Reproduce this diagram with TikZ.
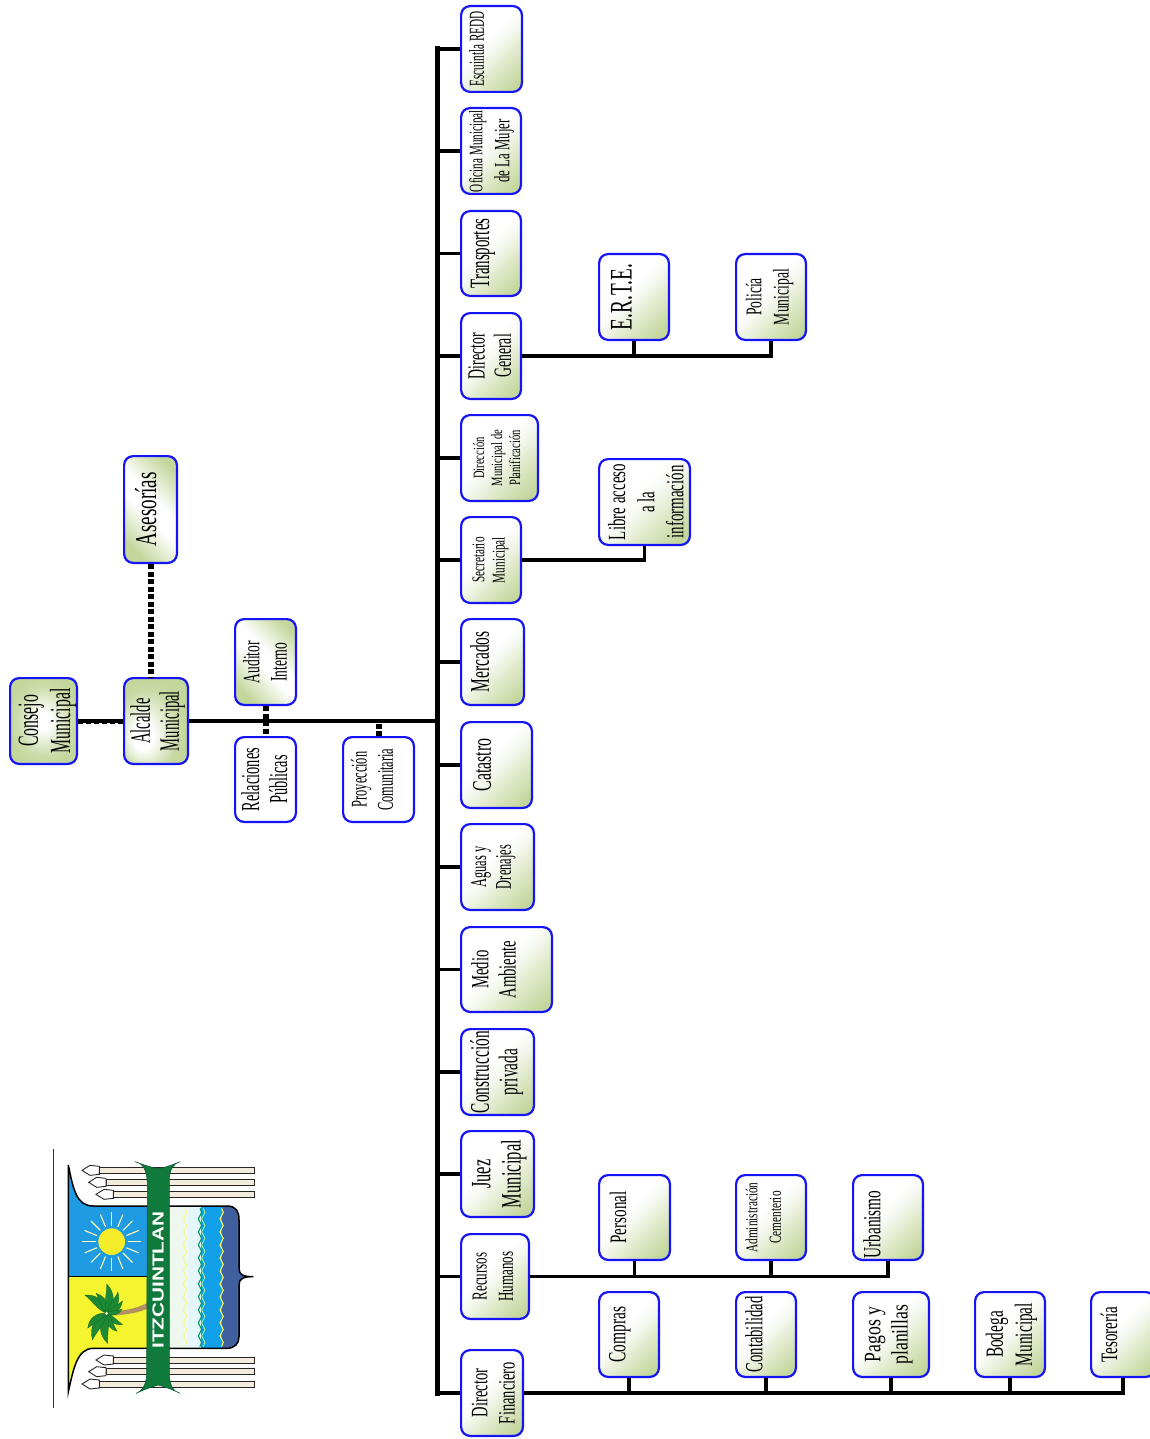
\documentclass[tikz,border=0pt]{standalone}
\usepackage{graphicx}
\usepackage{fontspec}
\setmainfont{Liberation Serif}
\newfontfamily\logofont{Liberation Sans}
\usetikzlibrary{decorations.pathmorphing}
\definecolor{gr}{HTML}{C3D69B}
\definecolor{bord}{HTML}{1414F5}
\definecolor{skyb}{HTML}{1E9BE2}
\definecolor{sea}{HTML}{12A0E8}
\definecolor{deep}{HTML}{3F5F9F}
\definecolor{band}{HTML}{0F7A3C}
\definecolor{palm}{HTML}{1C8A34}
\definecolor{shaft}{HTML}{F3EBDC}
\definecolor{yel}{HTML}{F4F52E}
\definecolor{tan}{HTML}{B09060}
\definecolor{pale}{HTML}{EEF8EE}
\definecolor{paleb}{HTML}{E4F6FA}
\pgfdeclareverticalshading{gbr}{100bp}{color(0bp)=(gr);color(20bp)=(gr);color(38bp)=(gr!50!white);color(50bp)=(gr!12!white);color(58bp)=(white);color(100bp)=(white)}
\pgfdeclareverticalshading{gmid}{100bp}{color(0bp)=(gr);color(24bp)=(gr);color(46bp)=(white);color(56bp)=(white);color(78bp)=(gr);color(100bp)=(gr)}
\pgfdeclareradialshading{gcen}{\pgfpoint{0bp}{0bp}}{color(0bp)=(white);color(5bp)=(white);color(20bp)=(gr!85!white);color(28bp)=(gr);color(50bp)=(gr)}
\pgfdeclareradialshading{goff}{\pgfpoint{-12bp}{-10bp}}{color(0bp)=(white);color(8bp)=(white);color(24bp)=(gr!90!white);color(30bp)=(gr);color(60bp)=(gr)}
\tikzset{
  boxbase/.style={draw=bord,line width=2.2pt,rounded corners=9pt,inner sep=0pt},
  shbr/.style={boxbase,shading=gbr,shading angle=45},
  shmid/.style={boxbase,shading=gmid,shading angle=-45},
  shcen/.style={boxbase,shading=gcen},
  shoff/.style={boxbase,shading=goff},
  shnone/.style={boxbase,fill=white},
  txtn/.style={rotate=90,inner sep=0pt,text=black},
  trunkline/.style={line width=5pt,draw=black},
  branch/.style={line width=3.6pt,draw=black},
  dotlink/.style={line width=6pt,draw=black,dash pattern=on 5pt off 2.5pt},
  outline/.style={draw=black,line width=1.5pt},
  spear/.style={draw=black!85,line width=.9pt,fill=shaft},
  leaf/.style={fill=palm,draw=palm!70!black,line width=.3pt},
}
\makeatletter
\def\nexty{0}
\newcommand\bx[6]{% name x0 y0 x1 y1 style
  \def\cur@n{#1}%
  \pgfmathsetmacro\cur@y{(#3+#5)/2}%
  \node[#6,minimum width={(#4-#2-2.2)*1pt},minimum height={(#5-#3-2.2)*1pt}] (#1) at ({(#2+#4)/2},{(#3+#5)/2}) {};%
  \bx@t}
\newcommand\bx@t[5]{% tx size ls len lines
  \node[txtn] (\cur@n-t) at (#1+1.5,\cur@y+\nexty) {\resizebox{#4pt}{1.12\height}{\fontsize{#2}{#3}\selectfont\begin{tabular}{@{}c@{}}#5\end{tabular}}};\gdef\nexty{0}}
\makeatother
\begin{document}
\begin{tikzpicture}[x=1pt,y=-1pt]
\useasboundingbox (0,0) rectangle (1150,1439);
\fill[white] (0,0) rectangle (1150,1439);
\coordinate (sp) at (437,48);
% boxes
\bx{cons}{9}{677}{78}{765}{shcen}{46}{26}{29}{65}{Consejo\\Municipal}
\bx{alc}{123}{677}{189}{765}{shoff}{157}{25}{26}{60}{Alcalde\\Municipal}
\bx{ases}{123}{455}{178}{564}{shmid}{148}{27}{30}{74}{Asesorías}
\bx{aud}{234}{618}{297}{706}{shmid}{266}{21}{24.5}{42}{Auditor\\Interno}
\bx{rel}{234}{736}{297}{823}{shnone}{266}{23}{25}{63}{Relaciones\\Públicas}
\bx{proy}{342}{736}{415}{823}{shnone}{373}{20}{23.5}{62}{Proyección\\Comunitaria}
\bx{esc}{460}{5}{523}{93}{shbr}{477}{19}{24}{75}{Escuintla REDD}
\bx{ofi}{460}{107}{522}{195}{shbr}{489}{17}{24}{82}{Oficina Municipal\\{\fontsize{19.5}{24}\selectfont de La Mujer}}
\bx{tra}{460}{210}{522}{297}{shbr}{481}{25}{30}{70}{Transportes}
\bx{dg}{460}{312}{522}{400}{shbr}{491}{22}{23.5}{46}{Director\\General}
\bx{dmp}{460}{414}{539}{502}{shbr}{497}{14}{16}{56}{Dirección\\Municipal de\\Planificación}
\bx{sec}{460}{516}{522}{604}{shbr}{489}{16}{18}{46}{Secretario\\Municipal}
\bx{mer}{460}{618}{525}{706}{shbr}{481}{24}{28}{61}{Mercados}
\bx{cat}{460}{721}{533}{809}{shbr}{483}{24}{28}{53}{Catastro}
\bx{agu}{460}{823}{535}{911}{shbr}{492}{20}{22}{44}{Aguas y\\Drenajes}
\bx{med}{460}{926}{553}{1013}{shbr}{495}{22}{24.5}{58}{Medio\\Ambiente}
\bx{con}{460}{1028}{535}{1116}{shbr}{496}{24}{25.5}{82}{Construcción\\privada}
\bx{jue}{460}{1130}{535}{1218}{shbr}{498}{25}{27}{68}{Juez\\Municipal}
\bx{rec}{460}{1233}{530}{1320}{shbr}{493}{19}{23.5}{50}{Recursos\\Humanos}
\bx{fin}{460}{1349}{524}{1437}{shbr}{494}{21}{24.5}{62}{Director\\Financiero}
\bx{erte}{598}{253}{670}{341}{shbr}{623}{28}{32}{66}{E.R.T.E.}
\bx{pol}{735}{253}{807}{341}{shbr}{768}{20}{24.5}{56}{Policía\\Municipal}
\bx{lib}{598}{458}{691}{546}{shbr}{647}{22}{26}{76}{Libre acceso\\a la\\información}
\bx{per}{598}{1174}{671}{1261}{shbr}{619}{21}{25}{52}{Personal}
\bx{adm}{735}{1174}{807}{1261}{shbr}{763}{15}{21}{70}{Administración\\Cementerio}
\gdef\nexty{7}
\bx{urb}{852}{1174}{924}{1261}{shbr}{873}{22}{26}{68}{Urbanismo}
\bx{com}{598}{1291}{660}{1378}{shbr}{618}{22}{26}{56}{Compras}
\bx{cnt}{735}{1291}{797}{1378}{shbr}{755}{22}{26}{76}{Contabilidad}
\bx{pag}{852}{1291}{930}{1378}{shbr}{887}{21}{24.5}{60}{Pagos y\\planillas}
\bx{bod}{974}{1291}{1046}{1378}{shbr}{1010}{22}{26}{63}{Bodega\\Municipal}
\bx{tes}{1090}{1291}{1156}{1378}{shbr}{1110}{21}{25}{56}{Tesorería}
% connectors
\draw[trunkline,line cap=rect] (esc.west -| sp) -- (fin.west -| sp);
\draw[branch] (cons.east) -- (alc.west);
\draw[draw=black,line width=.9pt,dash pattern=on 5pt off 3pt] ([yshift=-2.6pt]cons.east) -- ([yshift=-2.6pt]alc.west);
\draw[branch] (alc.east) -- (alc.east -| sp);
\foreach \n in {esc,ofi,tra,dg,dmp,sec,mer,cat,agu,med,con,jue,rec,fin} \draw[branch] (\n.west) -- (\n.west -| sp);
\draw[dotlink] (ases.south) -- (ases.south |- alc.north);
\draw[dotlink] (aud.south) -- (rel.north);
\draw[dotlink] (proy.north) -- (proy.north |- alc.east);
\draw[branch] (dg.east) -| (erte.south);
\draw[branch] (dg.east) -| (pol.south);
\draw[branch] (sec.east) -| (lib.south);
\draw[branch] (rec.east) -| (per.south);
\draw[branch] (rec.east) -| (adm.south);
\draw[branch] (rec.east) -| (urb.south);
\draw[branch] (fin.east) -| (com.south);
\draw[branch] (fin.east) -| (cnt.south);
\draw[branch] (fin.east) -| (pag.south);
\draw[branch] (fin.east) -| (bod.south);
\draw[branch] (fin.east) -| (tes.south);
\draw[line width=.9pt,black!80] (53,1149) -- (53,1408);
% logo
\begin{scope}[shift={(40,1140)},x=.33333pt,y=-.33333pt]
  \foreach \s/\yy in {178/91,198/127,220/163,220/660,198/695,178/732}{
    \draw[spear] (\s,\yy-9) rectangle (642,\yy+9);
    \draw[spear,fill=white] (\s-52,\yy) -- (\s-28,\yy-15) -- (\s,\yy-12) -- (\s,\yy+12) -- (\s-28,\yy+15) -- cycle;
  }
  \fill[skyb] (85,75) .. controls (100,150) and (110,198) .. (160,198) -- (330,198) -- (330,410) -- (85,410) -- cycle;
  \fill[yel] (85,410) -- (330,410) -- (330,625) -- (160,625) .. controls (110,625) and (100,690) .. (85,755) -- cycle;
  \draw[outline] (330,198) -- (160,198) .. controls (110,198) and (100,150) .. (85,75) -- (85,755) .. controls (100,690) and (110,625) .. (160,625) -- (330,625);
  \draw[outline] (85,410) -- (330,410);
  % sun
  \foreach \a in {0,22.5,...,337.5}{
    \draw[line width=1.1pt,color=yel!35!white] ({215+48*cos(\a)},{305+48*sin(\a)}) -- ({215+88*cos(\a)},{305+88*sin(\a)});
  }
  \fill[yel!92!orange] (215,305) circle (40);
  % palm
  \fill[tan] (200,513) .. controls (250,515) and (290,505) .. (325,488) -- (325,505) .. controls (290,520) and (250,526) .. (200,527) -- cycle;
  \foreach \a/\l in {-140/85,-118/68,-90/88,-62/72,-38/60,-15/48,35/58,60/62,88/90,118/90,142/72}{
    \begin{scope}[shift={(200,520)},rotate=-\a]
      \draw[leaf] (0,0) .. controls (\l*.3,\l*.3) and (\l*.7,\l*.3) .. (\l,0) .. controls (\l*.7,\l*.02) and (\l*.3,-\l*.12) .. (0,0) -- cycle;
    \end{scope}
  }
  \fill[white!80!tan] (200,520) circle (5);
  % sea
  \begin{scope}
    \clip (380,198) -- (560,198) .. controls (590,198) and (597,215) .. (597,240) -- (597,385) .. controls (597,405) and (610,410) .. (640,410) .. controls (610,410) and (597,415) .. (597,435) -- (597,590) .. controls (597,610) and (585,625) .. (560,625) -- (380,625) -- cycle;
    \fill[pale] (380,190) rectangle (445,635);
    \fill[paleb] (445,190) rectangle (482,635);
    \fill[sea] (482,190) rectangle (545,635);
    \fill[deep] (545,190) rectangle (650,635);
  \end{scope}
  \tikzset{wav/.style={decorate,decoration={snake,amplitude=1.6pt,segment length=13pt}}}
  \draw[wav,draw=yel!60!white,line width=.9pt] (435,205) -- (435,620);
  \draw[wav,draw=teal!80!green,line width=1.1pt] (480,205) -- (480,620);
  \draw[wav,draw=yel!50!green!50!white,line width=.7pt] (490,205) -- (490,620);
  \draw[wav,draw=yel!75!white,line width=1.1pt] (545,205) -- (545,620);
  \draw[outline] (380,198) -- (560,198) .. controls (590,198) and (597,215) .. (597,240) -- (597,385) .. controls (597,405) and (610,410) .. (640,410) .. controls (610,410) and (597,415) .. (597,435) -- (597,590) .. controls (597,610) and (585,625) .. (560,625) -- (380,625);
  % band
  \fill[band,draw=band!70!black,line width=.5pt] (285,65) .. controls (310,70) and (320,90) .. (322,130) -- (320,700) .. controls (320,735) and (305,755) .. (288,760) .. controls (320,745) and (345,738) .. (355,735) .. controls (365,738) and (390,745) .. (420,760) .. controls (400,755) and (388,735) .. (388,700) -- (388,120) .. controls (388,90) and (400,70) .. (420,65) .. controls (390,78) and (365,85) .. (355,85) .. controls (345,85) and (320,78) .. (285,65) -- cycle;
  \node[rotate=90,inner sep=0pt,text=white] (logotxt) at (354,420) {\resizebox{137pt}{\height}{\logofont\bfseries\fontsize{16}{20}\selectfont ITZCUINTLAN}};
\end{scope}
\end{tikzpicture}
\end{document}
